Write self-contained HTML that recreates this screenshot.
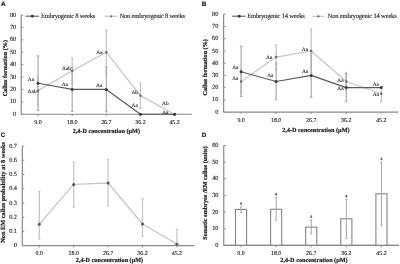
<!DOCTYPE html>
<html><head><meta charset="utf-8"><style>
html,body{margin:0;padding:0;background:#fff;width:400px;height:264px;overflow:hidden}
svg{display:block;will-change:transform;filter:blur(0.3px)} text{text-rendering:geometricPrecision}
</style></head><body>
<svg width="400" height="264" viewBox="0 0 400 264">
<rect width="400" height="264" fill="#fff"/>
<text x="1.10" y="5.60" font-size="6.3" text-anchor="start" font-weight="bold" fill="#222" font-family='"Liberation Sans", sans-serif' stroke="#222" stroke-width="0.2">A</text>
<line x1="21.20" y1="15.00" x2="21.20" y2="114.25" stroke="#8a8a8a" stroke-width="1.2"/>
<line x1="21.20" y1="114.25" x2="192.00" y2="114.25" stroke="#8a8a8a" stroke-width="1.2"/>
<line x1="21.20" y1="114.25" x2="23.20" y2="114.25" stroke="#8a8a8a" stroke-width="1.0"/>
<text x="16.20" y="115.85" font-size="6.3" text-anchor="end" font-weight="normal" fill="#222" font-family='"Liberation Serif", serif' stroke="#222" stroke-width="0.12">0</text>
<line x1="21.20" y1="101.84" x2="23.20" y2="101.84" stroke="#8a8a8a" stroke-width="1.0"/>
<text x="16.20" y="103.44" font-size="6.3" text-anchor="end" font-weight="normal" fill="#222" font-family='"Liberation Serif", serif' stroke="#222" stroke-width="0.12">10</text>
<line x1="21.20" y1="89.44" x2="23.20" y2="89.44" stroke="#8a8a8a" stroke-width="1.0"/>
<text x="16.20" y="91.04" font-size="6.3" text-anchor="end" font-weight="normal" fill="#222" font-family='"Liberation Serif", serif' stroke="#222" stroke-width="0.12">20</text>
<line x1="21.20" y1="77.03" x2="23.20" y2="77.03" stroke="#8a8a8a" stroke-width="1.0"/>
<text x="16.20" y="78.63" font-size="6.3" text-anchor="end" font-weight="normal" fill="#222" font-family='"Liberation Serif", serif' stroke="#222" stroke-width="0.12">30</text>
<line x1="21.20" y1="64.62" x2="23.20" y2="64.62" stroke="#8a8a8a" stroke-width="1.0"/>
<text x="16.20" y="66.22" font-size="6.3" text-anchor="end" font-weight="normal" fill="#222" font-family='"Liberation Serif", serif' stroke="#222" stroke-width="0.12">40</text>
<line x1="21.20" y1="52.22" x2="23.20" y2="52.22" stroke="#8a8a8a" stroke-width="1.0"/>
<text x="16.20" y="53.82" font-size="6.3" text-anchor="end" font-weight="normal" fill="#222" font-family='"Liberation Serif", serif' stroke="#222" stroke-width="0.12">50</text>
<line x1="21.20" y1="39.81" x2="23.20" y2="39.81" stroke="#8a8a8a" stroke-width="1.0"/>
<text x="16.20" y="41.41" font-size="6.3" text-anchor="end" font-weight="normal" fill="#222" font-family='"Liberation Serif", serif' stroke="#222" stroke-width="0.12">60</text>
<line x1="21.20" y1="27.41" x2="23.20" y2="27.41" stroke="#8a8a8a" stroke-width="1.0"/>
<text x="16.20" y="29.01" font-size="6.3" text-anchor="end" font-weight="normal" fill="#222" font-family='"Liberation Serif", serif' stroke="#222" stroke-width="0.12">70</text>
<line x1="21.20" y1="15.00" x2="23.20" y2="15.00" stroke="#8a8a8a" stroke-width="1.0"/>
<text x="16.20" y="16.60" font-size="6.3" text-anchor="end" font-weight="normal" fill="#222" font-family='"Liberation Serif", serif' stroke="#222" stroke-width="0.12">80</text>
<line x1="38.05" y1="114.25" x2="38.05" y2="116.05" stroke="#8a8a8a" stroke-width="1.0"/>
<text x="38.05" y="124.00" font-size="5.9" text-anchor="middle" font-weight="normal" fill="#222" font-family='"Liberation Serif", serif' stroke="#222" stroke-width="0.12">9.0</text>
<line x1="72.18" y1="114.25" x2="72.18" y2="116.05" stroke="#8a8a8a" stroke-width="1.0"/>
<text x="72.18" y="124.00" font-size="5.9" text-anchor="middle" font-weight="normal" fill="#222" font-family='"Liberation Serif", serif' stroke="#222" stroke-width="0.12">18.0</text>
<line x1="106.31" y1="114.25" x2="106.31" y2="116.05" stroke="#8a8a8a" stroke-width="1.0"/>
<text x="106.31" y="124.00" font-size="5.9" text-anchor="middle" font-weight="normal" fill="#222" font-family='"Liberation Serif", serif' stroke="#222" stroke-width="0.12">26.7</text>
<line x1="140.44" y1="114.25" x2="140.44" y2="116.05" stroke="#8a8a8a" stroke-width="1.0"/>
<text x="140.44" y="124.00" font-size="5.9" text-anchor="middle" font-weight="normal" fill="#222" font-family='"Liberation Serif", serif' stroke="#222" stroke-width="0.12">36.2</text>
<line x1="174.57" y1="114.25" x2="174.57" y2="116.05" stroke="#8a8a8a" stroke-width="1.0"/>
<text x="174.57" y="124.00" font-size="5.9" text-anchor="middle" font-weight="normal" fill="#222" font-family='"Liberation Serif", serif' stroke="#222" stroke-width="0.12">45.2</text>
<text x="106.30" y="133.20" font-size="6.2" text-anchor="middle" font-weight="bold" fill="#222" font-family='"Liberation Serif", serif' stroke="#222" stroke-width="0.2">2,4-D concentration (µM)</text>
<text x="7.30" y="68.20" font-size="6.15" text-anchor="middle" font-weight="bold" fill="#222" font-family='"Liberation Serif", serif' transform="rotate(-90 7.3 68.2)" stroke="#222" stroke-width="0.2">Callus formation (%)</text>
<line x1="25.60" y1="16.20" x2="39.10" y2="16.20" stroke="#5a5a5a" stroke-width="1.1"/>
<circle cx="32.30" cy="16.20" r="1.45" fill="#3a3a3a"/>
<text x="41.00" y="17.90" font-size="6.6" text-anchor="start" font-weight="normal" fill="#222" font-family='"Liberation Serif", serif' letter-spacing="-0.24" stroke="#222" stroke-width="0.12">Embryogenic 8 weeks</text>
<line x1="104.50" y1="16.30" x2="117.50" y2="16.30" stroke="#c8c8c8" stroke-width="1.2"/>
<circle cx="111.20" cy="16.30" r="1.1" fill="#666"/>
<text x="119.50" y="17.90" font-size="6.6" text-anchor="start" font-weight="normal" fill="#222" font-family='"Liberation Serif", serif' letter-spacing="-0.22" stroke="#222" stroke-width="0.12">Non embryogenic 8 weeks</text>
<line x1="38.05" y1="76.16" x2="38.05" y2="105.19" stroke="#c6c6c6" stroke-width="1.3"/>
<line x1="37.25" y1="76.16" x2="38.85" y2="76.16" stroke="#c6c6c6" stroke-width="1.1700000000000002"/>
<line x1="37.25" y1="105.19" x2="38.85" y2="105.19" stroke="#c6c6c6" stroke-width="1.1700000000000002"/>
<line x1="72.18" y1="58.05" x2="72.18" y2="83.61" stroke="#c6c6c6" stroke-width="1.3"/>
<line x1="70.98" y1="58.05" x2="73.38" y2="58.05" stroke="#c6c6c6" stroke-width="1.1700000000000002"/>
<line x1="70.98" y1="83.61" x2="73.38" y2="83.61" stroke="#c6c6c6" stroke-width="1.1700000000000002"/>
<line x1="106.31" y1="29.89" x2="106.31" y2="74.55" stroke="#c6c6c6" stroke-width="1.3"/>
<line x1="105.11" y1="29.89" x2="107.51" y2="29.89" stroke="#c6c6c6" stroke-width="1.1700000000000002"/>
<line x1="105.11" y1="74.55" x2="107.51" y2="74.55" stroke="#c6c6c6" stroke-width="1.1700000000000002"/>
<line x1="140.44" y1="82.99" x2="140.44" y2="108.30" stroke="#c6c6c6" stroke-width="1.3"/>
<line x1="139.14" y1="82.99" x2="141.74" y2="82.99" stroke="#c6c6c6" stroke-width="1.1700000000000002"/>
<line x1="139.14" y1="108.30" x2="141.74" y2="108.30" stroke="#c6c6c6" stroke-width="1.1700000000000002"/>
<line x1="38.05" y1="55.94" x2="38.05" y2="110.53" stroke="#a4a4a4" stroke-width="1.1"/>
<line x1="36.75" y1="55.94" x2="39.35" y2="55.94" stroke="#a4a4a4" stroke-width="0.9900000000000001"/>
<line x1="36.75" y1="110.53" x2="39.35" y2="110.53" stroke="#a4a4a4" stroke-width="0.9900000000000001"/>
<line x1="72.18" y1="67.35" x2="72.18" y2="111.52" stroke="#a4a4a4" stroke-width="1.1"/>
<line x1="70.88" y1="67.35" x2="73.48" y2="67.35" stroke="#a4a4a4" stroke-width="0.9900000000000001"/>
<line x1="70.88" y1="111.52" x2="73.48" y2="111.52" stroke="#a4a4a4" stroke-width="0.9900000000000001"/>
<line x1="106.31" y1="67.11" x2="106.31" y2="111.77" stroke="#a4a4a4" stroke-width="1.1"/>
<line x1="105.01" y1="67.11" x2="107.61" y2="67.11" stroke="#a4a4a4" stroke-width="0.9900000000000001"/>
<line x1="105.01" y1="111.77" x2="107.61" y2="111.77" stroke="#a4a4a4" stroke-width="0.9900000000000001"/>
<polyline points="38.05,90.68 72.18,70.83 106.31,52.22 140.44,95.64 174.57,114.25" fill="none" stroke="#c8c8c8" stroke-width="1.3" stroke-linejoin="round"/>
<polyline points="38.05,83.23 72.18,89.44 106.31,89.44 140.44,114.25 174.57,114.25" fill="none" stroke="#5a5a5a" stroke-width="1.2" stroke-linejoin="round"/>
<circle cx="38.05" cy="90.68" r="1.2" fill="#666"/>
<circle cx="72.18" cy="70.83" r="1.2" fill="#666"/>
<circle cx="106.31" cy="52.22" r="1.2" fill="#666"/>
<circle cx="140.44" cy="95.64" r="1.2" fill="#666"/>
<circle cx="174.57" cy="114.25" r="1.2" fill="#666"/>
<circle cx="38.05" cy="83.23" r="1.5" fill="#3a3a3a"/>
<circle cx="72.18" cy="89.44" r="1.5" fill="#3a3a3a"/>
<circle cx="106.31" cy="89.44" r="1.5" fill="#3a3a3a"/>
<circle cx="140.44" cy="114.25" r="1.5" fill="#3a3a3a"/>
<circle cx="174.57" cy="114.25" r="1.5" fill="#3a3a3a"/>
<text x="31.00" y="81.00" font-size="5.4" text-anchor="middle" font-weight="normal" fill="#222" font-family='"Liberation Serif", serif' stroke="#222" stroke-width="0.12">Aa</text>
<text x="32.10" y="92.90" font-size="5.4" text-anchor="middle" font-weight="normal" fill="#222" font-family='"Liberation Serif", serif' stroke="#222" stroke-width="0.12">Aab</text>
<text x="66.50" y="70.10" font-size="5.4" text-anchor="middle" font-weight="normal" fill="#222" font-family='"Liberation Serif", serif' stroke="#222" stroke-width="0.12">Aab</text>
<text x="64.80" y="85.90" font-size="5.4" text-anchor="middle" font-weight="normal" fill="#222" font-family='"Liberation Serif", serif' stroke="#222" stroke-width="0.12">Aa</text>
<text x="99.50" y="53.90" font-size="5.4" text-anchor="middle" font-weight="normal" fill="#222" font-family='"Liberation Serif", serif' stroke="#222" stroke-width="0.12">Aa</text>
<text x="99.20" y="87.30" font-size="5.4" text-anchor="middle" font-weight="normal" fill="#222" font-family='"Liberation Serif", serif' stroke="#222" stroke-width="0.12">Aa</text>
<text x="134.70" y="93.50" font-size="5.4" text-anchor="middle" font-weight="normal" fill="#222" font-family='"Liberation Serif", serif' stroke="#222" stroke-width="0.12">Ab</text>
<text x="134.70" y="107.30" font-size="5.4" text-anchor="middle" font-weight="normal" fill="#222" font-family='"Liberation Serif", serif' stroke="#222" stroke-width="0.12">Aa</text>
<text x="165.30" y="105.00" font-size="5.4" text-anchor="middle" font-weight="normal" fill="#222" font-family='"Liberation Serif", serif' stroke="#222" stroke-width="0.12">Ab</text>
<text x="165.30" y="113.50" font-size="5.4" text-anchor="middle" font-weight="normal" fill="#222" font-family='"Liberation Serif", serif' stroke="#222" stroke-width="0.12">Aa</text>
<text x="201.80" y="5.60" font-size="6.3" text-anchor="start" font-weight="bold" fill="#222" font-family='"Liberation Sans", sans-serif' stroke="#222" stroke-width="0.2">B</text>
<line x1="223.60" y1="14.20" x2="223.60" y2="112.10" stroke="#8a8a8a" stroke-width="1.2"/>
<line x1="223.60" y1="112.10" x2="398.30" y2="112.10" stroke="#8a8a8a" stroke-width="1.2"/>
<line x1="223.60" y1="112.10" x2="225.60" y2="112.10" stroke="#8a8a8a" stroke-width="1.0"/>
<text x="218.40" y="113.70" font-size="6.3" text-anchor="end" font-weight="normal" fill="#222" font-family='"Liberation Serif", serif' stroke="#222" stroke-width="0.12">0</text>
<line x1="223.60" y1="99.86" x2="225.60" y2="99.86" stroke="#8a8a8a" stroke-width="1.0"/>
<text x="218.40" y="101.46" font-size="6.3" text-anchor="end" font-weight="normal" fill="#222" font-family='"Liberation Serif", serif' stroke="#222" stroke-width="0.12">10</text>
<line x1="223.60" y1="87.62" x2="225.60" y2="87.62" stroke="#8a8a8a" stroke-width="1.0"/>
<text x="218.40" y="89.22" font-size="6.3" text-anchor="end" font-weight="normal" fill="#222" font-family='"Liberation Serif", serif' stroke="#222" stroke-width="0.12">20</text>
<line x1="223.60" y1="75.39" x2="225.60" y2="75.39" stroke="#8a8a8a" stroke-width="1.0"/>
<text x="218.40" y="76.99" font-size="6.3" text-anchor="end" font-weight="normal" fill="#222" font-family='"Liberation Serif", serif' stroke="#222" stroke-width="0.12">30</text>
<line x1="223.60" y1="63.15" x2="225.60" y2="63.15" stroke="#8a8a8a" stroke-width="1.0"/>
<text x="218.40" y="64.75" font-size="6.3" text-anchor="end" font-weight="normal" fill="#222" font-family='"Liberation Serif", serif' stroke="#222" stroke-width="0.12">40</text>
<line x1="223.60" y1="50.91" x2="225.60" y2="50.91" stroke="#8a8a8a" stroke-width="1.0"/>
<text x="218.40" y="52.51" font-size="6.3" text-anchor="end" font-weight="normal" fill="#222" font-family='"Liberation Serif", serif' stroke="#222" stroke-width="0.12">50</text>
<line x1="223.60" y1="38.67" x2="225.60" y2="38.67" stroke="#8a8a8a" stroke-width="1.0"/>
<text x="218.40" y="40.27" font-size="6.3" text-anchor="end" font-weight="normal" fill="#222" font-family='"Liberation Serif", serif' stroke="#222" stroke-width="0.12">60</text>
<line x1="223.60" y1="26.44" x2="225.60" y2="26.44" stroke="#8a8a8a" stroke-width="1.0"/>
<text x="218.40" y="28.04" font-size="6.3" text-anchor="end" font-weight="normal" fill="#222" font-family='"Liberation Serif", serif' stroke="#222" stroke-width="0.12">70</text>
<line x1="223.60" y1="14.20" x2="225.60" y2="14.20" stroke="#8a8a8a" stroke-width="1.0"/>
<text x="218.40" y="15.80" font-size="6.3" text-anchor="end" font-weight="normal" fill="#222" font-family='"Liberation Serif", serif' stroke="#222" stroke-width="0.12">80</text>
<line x1="241.10" y1="112.10" x2="241.10" y2="113.90" stroke="#8a8a8a" stroke-width="1.0"/>
<text x="241.10" y="121.70" font-size="5.9" text-anchor="middle" font-weight="normal" fill="#222" font-family='"Liberation Serif", serif' stroke="#222" stroke-width="0.12">9.0</text>
<line x1="276.15" y1="112.10" x2="276.15" y2="113.90" stroke="#8a8a8a" stroke-width="1.0"/>
<text x="276.15" y="121.70" font-size="5.9" text-anchor="middle" font-weight="normal" fill="#222" font-family='"Liberation Serif", serif' stroke="#222" stroke-width="0.12">18.0</text>
<line x1="311.20" y1="112.10" x2="311.20" y2="113.90" stroke="#8a8a8a" stroke-width="1.0"/>
<text x="311.20" y="121.70" font-size="5.9" text-anchor="middle" font-weight="normal" fill="#222" font-family='"Liberation Serif", serif' stroke="#222" stroke-width="0.12">26.7</text>
<line x1="346.25" y1="112.10" x2="346.25" y2="113.90" stroke="#8a8a8a" stroke-width="1.0"/>
<text x="346.25" y="121.70" font-size="5.9" text-anchor="middle" font-weight="normal" fill="#222" font-family='"Liberation Serif", serif' stroke="#222" stroke-width="0.12">36.2</text>
<line x1="381.30" y1="112.10" x2="381.30" y2="113.90" stroke="#8a8a8a" stroke-width="1.0"/>
<text x="381.30" y="121.70" font-size="5.9" text-anchor="middle" font-weight="normal" fill="#222" font-family='"Liberation Serif", serif' stroke="#222" stroke-width="0.12">45.2</text>
<text x="315.90" y="131.90" font-size="6.2" text-anchor="middle" font-weight="bold" fill="#222" font-family='"Liberation Serif", serif' stroke="#222" stroke-width="0.2">2,4-D concentration (µM)</text>
<text x="206.60" y="67.30" font-size="6.15" text-anchor="middle" font-weight="bold" fill="#222" font-family='"Liberation Serif", serif' transform="rotate(-90 206.6 67.3)" stroke="#222" stroke-width="0.2">Callus formation (%)</text>
<line x1="232.20" y1="16.20" x2="245.60" y2="16.20" stroke="#5a5a5a" stroke-width="1.1"/>
<circle cx="239.20" cy="16.20" r="1.45" fill="#3a3a3a"/>
<text x="247.30" y="17.80" font-size="6.6" text-anchor="start" font-weight="normal" fill="#222" font-family='"Liberation Serif", serif' letter-spacing="-0.23" stroke="#222" stroke-width="0.12">Embryogenic 14 weeks</text>
<line x1="312.20" y1="16.40" x2="324.60" y2="16.40" stroke="#c8c8c8" stroke-width="1.2"/>
<circle cx="318.40" cy="16.40" r="1.1" fill="#666"/>
<text x="327.60" y="18.00" font-size="6.6" text-anchor="start" font-weight="normal" fill="#222" font-family='"Liberation Serif", serif' letter-spacing="-0.2" stroke="#222" stroke-width="0.12">Non embryogenic 14 weeks</text>
<line x1="241.10" y1="69.27" x2="241.10" y2="93.74" stroke="#c6c6c6" stroke-width="1.3"/>
<line x1="240.30" y1="69.27" x2="241.90" y2="69.27" stroke="#c6c6c6" stroke-width="1.1700000000000002"/>
<line x1="240.30" y1="93.74" x2="241.90" y2="93.74" stroke="#c6c6c6" stroke-width="1.1700000000000002"/>
<line x1="276.15" y1="44.79" x2="276.15" y2="69.27" stroke="#c6c6c6" stroke-width="1.3"/>
<line x1="274.95" y1="44.79" x2="277.35" y2="44.79" stroke="#c6c6c6" stroke-width="1.1700000000000002"/>
<line x1="274.95" y1="69.27" x2="277.35" y2="69.27" stroke="#c6c6c6" stroke-width="1.1700000000000002"/>
<line x1="311.20" y1="28.88" x2="311.20" y2="72.94" stroke="#c6c6c6" stroke-width="1.3"/>
<line x1="310.00" y1="28.88" x2="312.40" y2="28.88" stroke="#c6c6c6" stroke-width="1.1700000000000002"/>
<line x1="310.00" y1="72.94" x2="312.40" y2="72.94" stroke="#c6c6c6" stroke-width="1.1700000000000002"/>
<line x1="346.25" y1="72.33" x2="346.25" y2="90.68" stroke="#c6c6c6" stroke-width="1.3"/>
<line x1="345.45" y1="72.33" x2="347.05" y2="72.33" stroke="#c6c6c6" stroke-width="1.1700000000000002"/>
<line x1="345.45" y1="90.68" x2="347.05" y2="90.68" stroke="#c6c6c6" stroke-width="1.1700000000000002"/>
<line x1="381.30" y1="86.40" x2="381.30" y2="101.70" stroke="#c6c6c6" stroke-width="1.3"/>
<line x1="380.00" y1="86.40" x2="382.60" y2="86.40" stroke="#c6c6c6" stroke-width="1.1700000000000002"/>
<line x1="380.00" y1="101.70" x2="382.60" y2="101.70" stroke="#c6c6c6" stroke-width="1.1700000000000002"/>
<line x1="241.10" y1="46.02" x2="241.10" y2="96.44" stroke="#a4a4a4" stroke-width="1.1"/>
<line x1="239.80" y1="46.02" x2="242.40" y2="46.02" stroke="#a4a4a4" stroke-width="0.9900000000000001"/>
<line x1="239.80" y1="96.44" x2="242.40" y2="96.44" stroke="#a4a4a4" stroke-width="0.9900000000000001"/>
<line x1="276.15" y1="63.15" x2="276.15" y2="99.86" stroke="#a4a4a4" stroke-width="1.1"/>
<line x1="274.85" y1="63.15" x2="277.45" y2="63.15" stroke="#a4a4a4" stroke-width="0.9900000000000001"/>
<line x1="274.85" y1="99.86" x2="277.45" y2="99.86" stroke="#a4a4a4" stroke-width="0.9900000000000001"/>
<line x1="311.20" y1="53.36" x2="311.20" y2="97.17" stroke="#a4a4a4" stroke-width="1.1"/>
<line x1="309.90" y1="53.36" x2="312.50" y2="53.36" stroke="#a4a4a4" stroke-width="0.9900000000000001"/>
<line x1="309.90" y1="97.17" x2="312.50" y2="97.17" stroke="#a4a4a4" stroke-width="0.9900000000000001"/>
<line x1="346.25" y1="73.55" x2="346.25" y2="101.45" stroke="#a4a4a4" stroke-width="1.1"/>
<line x1="344.95" y1="73.55" x2="347.55" y2="73.55" stroke="#a4a4a4" stroke-width="0.9900000000000001"/>
<line x1="344.95" y1="101.45" x2="347.55" y2="101.45" stroke="#a4a4a4" stroke-width="0.9900000000000001"/>
<polyline points="241.10,81.51 276.15,57.03 311.20,50.91 346.25,81.51 381.30,93.74" fill="none" stroke="#c8c8c8" stroke-width="1.3" stroke-linejoin="round"/>
<polyline points="241.10,71.72 276.15,81.51 311.20,75.39 346.25,87.62 381.30,87.62" fill="none" stroke="#5a5a5a" stroke-width="1.2" stroke-linejoin="round"/>
<circle cx="241.10" cy="81.51" r="1.2" fill="#666"/>
<circle cx="276.15" cy="57.03" r="1.2" fill="#666"/>
<circle cx="311.20" cy="50.91" r="1.2" fill="#666"/>
<circle cx="346.25" cy="81.51" r="1.2" fill="#666"/>
<circle cx="381.30" cy="93.74" r="1.2" fill="#666"/>
<circle cx="241.10" cy="71.72" r="1.5" fill="#3a3a3a"/>
<circle cx="276.15" cy="81.51" r="1.5" fill="#3a3a3a"/>
<circle cx="311.20" cy="75.39" r="1.5" fill="#3a3a3a"/>
<circle cx="346.25" cy="87.62" r="1.5" fill="#3a3a3a"/>
<circle cx="381.30" cy="87.62" r="1.5" fill="#3a3a3a"/>
<text x="235.30" y="69.20" font-size="5.4" text-anchor="middle" font-weight="normal" fill="#222" font-family='"Liberation Serif", serif' stroke="#222" stroke-width="0.12">Aa</text>
<text x="235.30" y="79.80" font-size="5.4" text-anchor="middle" font-weight="normal" fill="#222" font-family='"Liberation Serif", serif' stroke="#222" stroke-width="0.12">Aa</text>
<text x="269.10" y="58.70" font-size="5.4" text-anchor="middle" font-weight="normal" fill="#222" font-family='"Liberation Serif", serif' stroke="#222" stroke-width="0.12">Aa</text>
<text x="270.30" y="77.30" font-size="5.4" text-anchor="middle" font-weight="normal" fill="#222" font-family='"Liberation Serif", serif' stroke="#222" stroke-width="0.12">Aa</text>
<text x="305.00" y="50.60" font-size="5.4" text-anchor="middle" font-weight="normal" fill="#222" font-family='"Liberation Serif", serif' stroke="#222" stroke-width="0.12">Aa</text>
<text x="305.10" y="73.00" font-size="5.4" text-anchor="middle" font-weight="normal" fill="#222" font-family='"Liberation Serif", serif' stroke="#222" stroke-width="0.12">Aa</text>
<text x="340.50" y="82.10" font-size="5.4" text-anchor="middle" font-weight="normal" fill="#222" font-family='"Liberation Serif", serif' stroke="#222" stroke-width="0.12">Aa</text>
<text x="340.50" y="90.10" font-size="5.4" text-anchor="middle" font-weight="normal" fill="#222" font-family='"Liberation Serif", serif' stroke="#222" stroke-width="0.12">Aa</text>
<text x="375.80" y="86.10" font-size="5.4" text-anchor="middle" font-weight="normal" fill="#222" font-family='"Liberation Serif", serif' stroke="#222" stroke-width="0.12">Aa</text>
<text x="375.80" y="96.20" font-size="5.4" text-anchor="middle" font-weight="normal" fill="#222" font-family='"Liberation Serif", serif' stroke="#222" stroke-width="0.12">Aa</text>
<text x="0.70" y="136.60" font-size="6.3" text-anchor="start" font-weight="bold" fill="#222" font-family='"Liberation Sans", sans-serif' stroke="#222" stroke-width="0.2">C</text>
<line x1="22.30" y1="146.00" x2="22.30" y2="245.60" stroke="#8a8a8a" stroke-width="1.2"/>
<line x1="22.30" y1="245.60" x2="194.40" y2="245.60" stroke="#8a8a8a" stroke-width="1.2"/>
<line x1="22.30" y1="245.60" x2="24.30" y2="245.60" stroke="#8a8a8a" stroke-width="1.0"/>
<text x="17.00" y="247.20" font-size="6.3" text-anchor="end" font-weight="normal" fill="#222" font-family='"Liberation Serif", serif' stroke="#222" stroke-width="0.12">0</text>
<line x1="22.30" y1="231.37" x2="24.30" y2="231.37" stroke="#8a8a8a" stroke-width="1.0"/>
<text x="17.00" y="232.97" font-size="6.3" text-anchor="end" font-weight="normal" fill="#222" font-family='"Liberation Serif", serif' stroke="#222" stroke-width="0.12">0.1</text>
<line x1="22.30" y1="217.14" x2="24.30" y2="217.14" stroke="#8a8a8a" stroke-width="1.0"/>
<text x="17.00" y="218.74" font-size="6.3" text-anchor="end" font-weight="normal" fill="#222" font-family='"Liberation Serif", serif' stroke="#222" stroke-width="0.12">0.2</text>
<line x1="22.30" y1="202.91" x2="24.30" y2="202.91" stroke="#8a8a8a" stroke-width="1.0"/>
<text x="17.00" y="204.51" font-size="6.3" text-anchor="end" font-weight="normal" fill="#222" font-family='"Liberation Serif", serif' stroke="#222" stroke-width="0.12">0.3</text>
<line x1="22.30" y1="188.69" x2="24.30" y2="188.69" stroke="#8a8a8a" stroke-width="1.0"/>
<text x="17.00" y="190.29" font-size="6.3" text-anchor="end" font-weight="normal" fill="#222" font-family='"Liberation Serif", serif' stroke="#222" stroke-width="0.12">0.4</text>
<line x1="22.30" y1="174.46" x2="24.30" y2="174.46" stroke="#8a8a8a" stroke-width="1.0"/>
<text x="17.00" y="176.06" font-size="6.3" text-anchor="end" font-weight="normal" fill="#222" font-family='"Liberation Serif", serif' stroke="#222" stroke-width="0.12">0.5</text>
<line x1="22.30" y1="160.23" x2="24.30" y2="160.23" stroke="#8a8a8a" stroke-width="1.0"/>
<text x="17.00" y="161.83" font-size="6.3" text-anchor="end" font-weight="normal" fill="#222" font-family='"Liberation Serif", serif' stroke="#222" stroke-width="0.12">0.6</text>
<line x1="22.30" y1="146.00" x2="24.30" y2="146.00" stroke="#8a8a8a" stroke-width="1.0"/>
<text x="17.00" y="147.60" font-size="6.3" text-anchor="end" font-weight="normal" fill="#222" font-family='"Liberation Serif", serif' stroke="#222" stroke-width="0.12">0.7</text>
<line x1="39.30" y1="245.60" x2="39.30" y2="247.40" stroke="#8a8a8a" stroke-width="1.0"/>
<text x="39.30" y="255.20" font-size="5.9" text-anchor="middle" font-weight="normal" fill="#222" font-family='"Liberation Serif", serif' stroke="#222" stroke-width="0.12">9.0</text>
<line x1="73.70" y1="245.60" x2="73.70" y2="247.40" stroke="#8a8a8a" stroke-width="1.0"/>
<text x="73.70" y="255.20" font-size="5.9" text-anchor="middle" font-weight="normal" fill="#222" font-family='"Liberation Serif", serif' stroke="#222" stroke-width="0.12">18.0</text>
<line x1="108.10" y1="245.60" x2="108.10" y2="247.40" stroke="#8a8a8a" stroke-width="1.0"/>
<text x="108.10" y="255.20" font-size="5.9" text-anchor="middle" font-weight="normal" fill="#222" font-family='"Liberation Serif", serif' stroke="#222" stroke-width="0.12">26.7</text>
<line x1="142.50" y1="245.60" x2="142.50" y2="247.40" stroke="#8a8a8a" stroke-width="1.0"/>
<text x="142.50" y="255.20" font-size="5.9" text-anchor="middle" font-weight="normal" fill="#222" font-family='"Liberation Serif", serif' stroke="#222" stroke-width="0.12">36.2</text>
<line x1="176.90" y1="245.60" x2="176.90" y2="247.40" stroke="#8a8a8a" stroke-width="1.0"/>
<text x="176.90" y="255.20" font-size="5.9" text-anchor="middle" font-weight="normal" fill="#222" font-family='"Liberation Serif", serif' stroke="#222" stroke-width="0.12">45.2</text>
<text x="109.50" y="261.80" font-size="6.2" text-anchor="middle" font-weight="bold" fill="#222" font-family='"Liberation Serif", serif' stroke="#222" stroke-width="0.2">2,4-D concentration (µM)</text>
<text x="4.90" y="192.40" font-size="6.3" text-anchor="middle" font-weight="bold" fill="#222" font-family='"Liberation Serif", serif' transform="rotate(-90 4.9 192.4)" stroke="#222" stroke-width="0.2">Non EM callus probability at 8 weeks</text>
<line x1="39.30" y1="191.39" x2="39.30" y2="239.34" stroke="#c8c8c8" stroke-width="1.3"/>
<line x1="38.10" y1="191.39" x2="40.50" y2="191.39" stroke="#c8c8c8" stroke-width="1.1700000000000002"/>
<line x1="38.10" y1="239.34" x2="40.50" y2="239.34" stroke="#c8c8c8" stroke-width="1.1700000000000002"/>
<line x1="73.70" y1="161.79" x2="73.70" y2="207.18" stroke="#c8c8c8" stroke-width="1.3"/>
<line x1="72.50" y1="161.79" x2="74.90" y2="161.79" stroke="#c8c8c8" stroke-width="1.1700000000000002"/>
<line x1="72.50" y1="207.18" x2="74.90" y2="207.18" stroke="#c8c8c8" stroke-width="1.1700000000000002"/>
<line x1="108.10" y1="159.09" x2="108.10" y2="205.90" stroke="#c8c8c8" stroke-width="1.3"/>
<line x1="106.90" y1="159.09" x2="109.30" y2="159.09" stroke="#c8c8c8" stroke-width="1.1700000000000002"/>
<line x1="106.90" y1="205.90" x2="109.30" y2="205.90" stroke="#c8c8c8" stroke-width="1.1700000000000002"/>
<line x1="142.50" y1="198.79" x2="142.50" y2="236.35" stroke="#c8c8c8" stroke-width="1.3"/>
<line x1="141.30" y1="198.79" x2="143.70" y2="198.79" stroke="#c8c8c8" stroke-width="1.1700000000000002"/>
<line x1="141.30" y1="236.35" x2="143.70" y2="236.35" stroke="#c8c8c8" stroke-width="1.1700000000000002"/>
<line x1="176.90" y1="229.38" x2="176.90" y2="245.60" stroke="#c8c8c8" stroke-width="1.3"/>
<line x1="175.70" y1="229.38" x2="178.10" y2="229.38" stroke="#c8c8c8" stroke-width="1.1700000000000002"/>
<line x1="175.70" y1="245.60" x2="178.10" y2="245.60" stroke="#c8c8c8" stroke-width="1.1700000000000002"/>
<polyline points="39.30,224.26 73.70,184.42 108.10,182.99 142.50,223.97 176.90,244.18" fill="none" stroke="#c8c8c8" stroke-width="1.3" stroke-linejoin="round"/>
<circle cx="39.30" cy="224.26" r="1.5" fill="#555"/>
<circle cx="73.70" cy="184.42" r="1.5" fill="#555"/>
<circle cx="108.10" cy="182.99" r="1.5" fill="#555"/>
<circle cx="142.50" cy="223.97" r="1.5" fill="#555"/>
<circle cx="176.90" cy="244.18" r="1.5" fill="#555"/>
<text x="201.80" y="136.60" font-size="6.3" text-anchor="start" font-weight="bold" fill="#222" font-family='"Liberation Sans", sans-serif' stroke="#222" stroke-width="0.2">D</text>
<line x1="223.75" y1="145.50" x2="223.75" y2="245.45" stroke="#8a8a8a" stroke-width="1.2"/>
<line x1="223.75" y1="245.45" x2="399.00" y2="245.45" stroke="#8a8a8a" stroke-width="1.2"/>
<line x1="223.75" y1="245.45" x2="225.75" y2="245.45" stroke="#8a8a8a" stroke-width="1.0"/>
<text x="218.45" y="247.05" font-size="6.3" text-anchor="end" font-weight="normal" fill="#222" font-family='"Liberation Serif", serif' stroke="#222" stroke-width="0.12">0</text>
<line x1="223.75" y1="228.79" x2="225.75" y2="228.79" stroke="#8a8a8a" stroke-width="1.0"/>
<text x="218.45" y="230.39" font-size="6.3" text-anchor="end" font-weight="normal" fill="#222" font-family='"Liberation Serif", serif' stroke="#222" stroke-width="0.12">10</text>
<line x1="223.75" y1="212.13" x2="225.75" y2="212.13" stroke="#8a8a8a" stroke-width="1.0"/>
<text x="218.45" y="213.73" font-size="6.3" text-anchor="end" font-weight="normal" fill="#222" font-family='"Liberation Serif", serif' stroke="#222" stroke-width="0.12">20</text>
<line x1="223.75" y1="195.47" x2="225.75" y2="195.47" stroke="#8a8a8a" stroke-width="1.0"/>
<text x="218.45" y="197.07" font-size="6.3" text-anchor="end" font-weight="normal" fill="#222" font-family='"Liberation Serif", serif' stroke="#222" stroke-width="0.12">30</text>
<line x1="223.75" y1="178.82" x2="225.75" y2="178.82" stroke="#8a8a8a" stroke-width="1.0"/>
<text x="218.45" y="180.42" font-size="6.3" text-anchor="end" font-weight="normal" fill="#222" font-family='"Liberation Serif", serif' stroke="#222" stroke-width="0.12">40</text>
<line x1="223.75" y1="162.16" x2="225.75" y2="162.16" stroke="#8a8a8a" stroke-width="1.0"/>
<text x="218.45" y="163.76" font-size="6.3" text-anchor="end" font-weight="normal" fill="#222" font-family='"Liberation Serif", serif' stroke="#222" stroke-width="0.12">50</text>
<line x1="223.75" y1="145.50" x2="225.75" y2="145.50" stroke="#8a8a8a" stroke-width="1.0"/>
<text x="218.45" y="147.10" font-size="6.3" text-anchor="end" font-weight="normal" fill="#222" font-family='"Liberation Serif", serif' stroke="#222" stroke-width="0.12">60</text>
<line x1="241.05" y1="245.45" x2="241.05" y2="247.25" stroke="#8a8a8a" stroke-width="1.0"/>
<text x="241.05" y="254.70" font-size="5.9" text-anchor="middle" font-weight="normal" fill="#222" font-family='"Liberation Serif", serif' stroke="#222" stroke-width="0.12">9.0</text>
<line x1="276.15" y1="245.45" x2="276.15" y2="247.25" stroke="#8a8a8a" stroke-width="1.0"/>
<text x="276.15" y="254.70" font-size="5.9" text-anchor="middle" font-weight="normal" fill="#222" font-family='"Liberation Serif", serif' stroke="#222" stroke-width="0.12">18.0</text>
<line x1="311.25" y1="245.45" x2="311.25" y2="247.25" stroke="#8a8a8a" stroke-width="1.0"/>
<text x="311.25" y="254.70" font-size="5.9" text-anchor="middle" font-weight="normal" fill="#222" font-family='"Liberation Serif", serif' stroke="#222" stroke-width="0.12">26.7</text>
<line x1="346.35" y1="245.45" x2="346.35" y2="247.25" stroke="#8a8a8a" stroke-width="1.0"/>
<text x="346.35" y="254.70" font-size="5.9" text-anchor="middle" font-weight="normal" fill="#222" font-family='"Liberation Serif", serif' stroke="#222" stroke-width="0.12">36.2</text>
<line x1="381.45" y1="245.45" x2="381.45" y2="247.25" stroke="#8a8a8a" stroke-width="1.0"/>
<text x="381.45" y="254.70" font-size="5.9" text-anchor="middle" font-weight="normal" fill="#222" font-family='"Liberation Serif", serif' stroke="#222" stroke-width="0.12">45.2</text>
<text x="314.00" y="261.90" font-size="6.2" text-anchor="middle" font-weight="bold" fill="#222" font-family='"Liberation Serif", serif' stroke="#222" stroke-width="0.2">2,4-D concentration (µM)</text>
<text x="206.60" y="193.00" font-size="6.15" text-anchor="middle" font-weight="bold" fill="#222" font-family='"Liberation Serif", serif' transform="rotate(-90 206.6 193.0)" stroke="#222" stroke-width="0.2">Somatic embryos /EM callus (units)</text>
<rect x="235.50" y="209.47" width="11.1" height="35.98" fill="#fff" stroke="#858585" stroke-width="1.1"/>
<rect x="270.60" y="209.30" width="11.1" height="36.15" fill="#fff" stroke="#858585" stroke-width="1.1"/>
<rect x="305.70" y="227.13" width="11.1" height="18.32" fill="#fff" stroke="#858585" stroke-width="1.1"/>
<rect x="340.80" y="218.80" width="11.1" height="26.65" fill="#fff" stroke="#858585" stroke-width="1.1"/>
<rect x="375.90" y="193.81" width="11.1" height="51.64" fill="#fff" stroke="#858585" stroke-width="1.1"/>
<line x1="241.05" y1="206.80" x2="241.05" y2="212.47" stroke="#a8a8a8" stroke-width="1.0"/>
<line x1="239.85" y1="206.80" x2="242.25" y2="206.80" stroke="#a8a8a8" stroke-width="0.9"/>
<line x1="239.85" y1="212.47" x2="242.25" y2="212.47" stroke="#a8a8a8" stroke-width="0.9"/>
<ellipse cx="241.05" cy="203.60" rx="0.95" ry="1.4" fill="#666"/>
<line x1="276.15" y1="197.47" x2="276.15" y2="219.96" stroke="#a8a8a8" stroke-width="1.0"/>
<line x1="274.95" y1="197.47" x2="277.35" y2="197.47" stroke="#a8a8a8" stroke-width="0.9"/>
<line x1="274.95" y1="219.96" x2="277.35" y2="219.96" stroke="#a8a8a8" stroke-width="0.9"/>
<ellipse cx="276.15" cy="194.27" rx="0.95" ry="1.4" fill="#666"/>
<line x1="311.25" y1="219.96" x2="311.25" y2="233.79" stroke="#a8a8a8" stroke-width="1.0"/>
<line x1="310.05" y1="219.96" x2="312.45" y2="219.96" stroke="#a8a8a8" stroke-width="0.9"/>
<line x1="310.05" y1="233.79" x2="312.45" y2="233.79" stroke="#a8a8a8" stroke-width="0.9"/>
<ellipse cx="311.25" cy="216.76" rx="0.95" ry="1.4" fill="#666"/>
<line x1="346.35" y1="199.47" x2="346.35" y2="238.62" stroke="#a8a8a8" stroke-width="1.0"/>
<line x1="345.15" y1="199.47" x2="347.55" y2="199.47" stroke="#a8a8a8" stroke-width="0.9"/>
<line x1="345.15" y1="238.62" x2="347.55" y2="238.62" stroke="#a8a8a8" stroke-width="0.9"/>
<ellipse cx="346.35" cy="196.27" rx="0.95" ry="1.4" fill="#666"/>
<line x1="381.45" y1="162.16" x2="381.45" y2="225.46" stroke="#a8a8a8" stroke-width="1.0"/>
<line x1="380.25" y1="162.16" x2="382.65" y2="162.16" stroke="#a8a8a8" stroke-width="0.9"/>
<line x1="380.25" y1="225.46" x2="382.65" y2="225.46" stroke="#a8a8a8" stroke-width="0.9"/>
<ellipse cx="381.45" cy="158.96" rx="0.95" ry="1.4" fill="#666"/>
<line x1="223.75" y1="245.45" x2="399.00" y2="245.45" stroke="#8a8a8a" stroke-width="1.3"/>
</svg>
</body></html>
